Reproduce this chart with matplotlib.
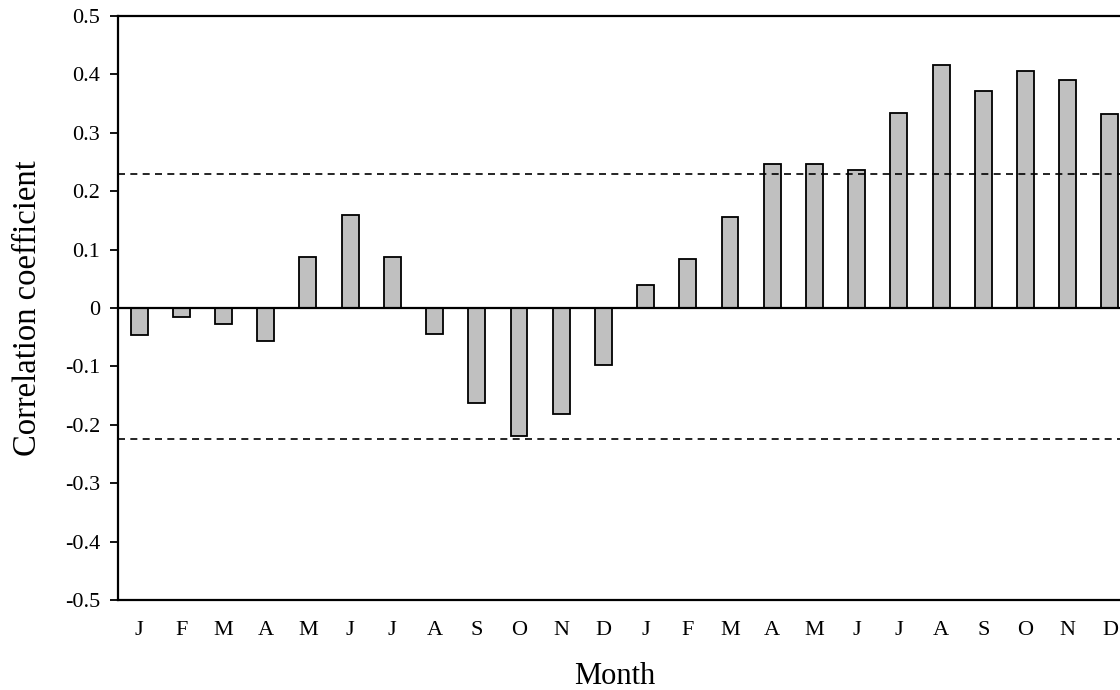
import matplotlib.pyplot as plt
import numpy as np

months = ["J", "F", "M", "A", "M", "J", "J", "A", "S", "O", "N", "D",
          "J", "F", "M", "A", "M", "J", "J", "A", "S", "O", "N", "D"]
corr = [-0.047, -0.016, -0.028, -0.057, 0.087, 0.159, 0.087, -0.044, -0.162, -0.220, -0.181, -0.097,
        0.040, 0.084, 0.156, 0.247, 0.247, 0.237, 0.334, 0.416, 0.372, 0.406, 0.391, 0.332]
upper_sig = 0.230
lower_sig = -0.225

plt.rcParams['font.family'] = ['Liberation Serif', 'DejaVu Serif']

fig = plt.figure(figsize=(11.2, 6.9), dpi=100)
W, H = 1120.0, 690.0
ax = fig.add_axes([118 / W, 90 / H, 1013 / W, 584 / H])

x = np.arange(len(months))
ax.bar(x, corr, width=0.4, color="#c0c0c0", edgecolor="black", linewidth=1.3, zorder=2)
ax.axhline(0, color="black", linewidth=1.6, zorder=3)
for v in (upper_sig, lower_sig):
  ax.axhline(v, color="black", linewidth=1.2, linestyle=(0, (4.2, 3.2)), zorder=4)

ax.set_xlim(-0.5, len(months) - 0.5)
ax.set_ylim(-0.5, 0.5)
ax.set_yticks(np.arange(-0.5, 0.51, 0.1))
ax.set_yticklabels(["-0.5", "-0.4", "-0.3", "-0.2", "-0.1", "0", "0.1", "0.2", "0.3", "0.4", "0.5"])
ax.set_xticks(x)
ax.set_xticklabels(months)

ax.tick_params(axis="y", direction="out", length=6, width=1.3, pad=7, labelsize=16)
ax.tick_params(axis="x", length=0, pad=15, labelsize=16)
for s in ax.spines.values():
  s.set_linewidth(1.6)

ax.set_xlabel("Month", fontsize=22)
ax.xaxis.set_label_coords(0.49, -0.106)
ax.set_ylabel("Correlation coefficient", fontsize=23.5)
ax.yaxis.set_label_coords(-0.074, 0.5)

fig.savefig("out.png", dpi=100)
